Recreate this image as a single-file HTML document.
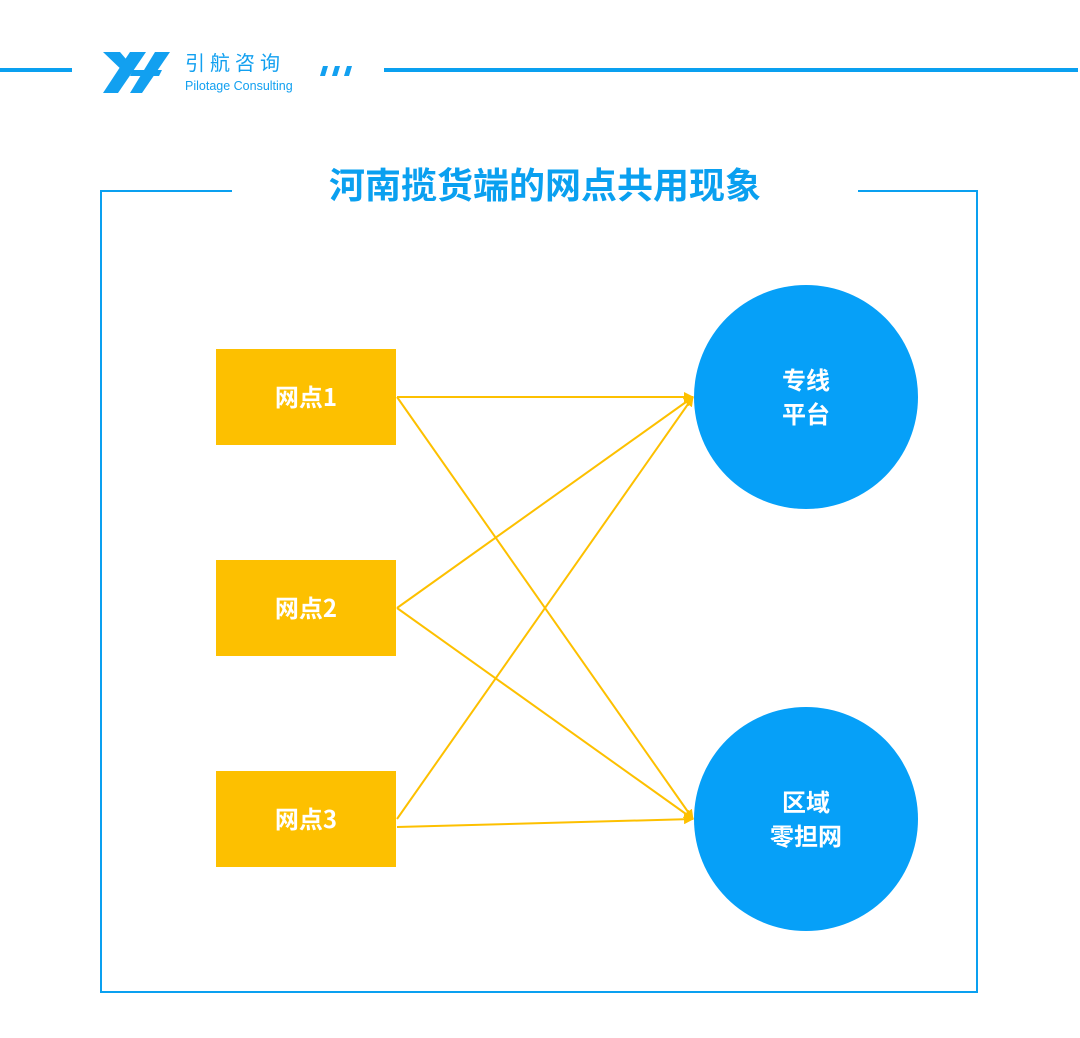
<!DOCTYPE html>
<html><head><meta charset="utf-8"><style>
body{margin:0;width:1080px;height:1038px;background:#fff;overflow:hidden;font-family:"Liberation Sans","Noto Sans CJK SC",sans-serif}
</style></head><body>
<svg width="1080" height="1038" xmlns="http://www.w3.org/2000/svg" style="position:absolute;left:0;top:0">
<defs><marker id="a" markerWidth="10" markerHeight="10" refX="9" refY="5" orient="auto" markerUnits="userSpaceOnUse"><path d="M0,0 L10,5 L0,10z" fill="#fdc000"/></marker></defs>
<line x1="0" y1="70" x2="72" y2="70" stroke="#0aa0f0" stroke-width="4"/>
<line x1="384" y1="70" x2="1078" y2="70" stroke="#0aa0f0" stroke-width="4"/>
<g fill="#12a0f0">
<path d="M103,52 L120,52 L132,66 L127,75 Z"/>
<path d="M130,52 L146,52 L118,93 L103,93 Z"/>
<path d="M155,52 L170,52 L142,93 L130,93 Z"/>
<path d="M133,70 L162,70 L159,76 L130,76 Z"/>
</g>
<text x="185" y="70" font-size="20" fill="#12a0f0" letter-spacing="5" font-family="Noto Sans CJK SC">引航咨询</text>
<text x="185" y="90" font-size="12.5" fill="#12a0f0">Pilotage Consulting</text>
<path d="M323,66h5l-3,10h-5zM335,66h5l-3,10h-5zM347,66h5l-3,10h-5z" fill="#12a0f0"/>
<path d="M232,191 H101 V992 H977 V191 H858" fill="none" stroke="#0aa0f0" stroke-width="2"/>
<text x="545" y="198" font-size="36" font-weight="bold" fill="#0aa0f0" text-anchor="middle" font-family="Noto Sans CJK SC">河南揽货端的网点共用现象</text>
<g stroke="#fdc000" stroke-width="2" marker-end="url(#a)">
<line x1="397" y1="397" x2="693" y2="397"/>
<line x1="397" y1="397" x2="693" y2="819"/>
<line x1="397" y1="608" x2="693" y2="397"/>
<line x1="397" y1="608" x2="693" y2="819"/>
<line x1="397" y1="819" x2="693" y2="397"/>
<line x1="397" y1="827" x2="693" y2="819"/>
</g>
<g fill="#fdc000"><rect x="216" y="349" width="180" height="96"/><rect x="216" y="560" width="180" height="96"/><rect x="216" y="771" width="180" height="96"/></g>
<g fill="#fff" font-size="24" font-weight="bold" text-anchor="middle" font-family="Noto Sans CJK SC">
<text x="306" y="406">网点1</text><text x="306" y="617">网点2</text><text x="306" y="828">网点3</text></g>
<circle cx="806" cy="397" r="112" fill="#06a0f8"/>
<circle cx="806" cy="819" r="112" fill="#06a0f8"/>
<g fill="#fff" font-size="24" font-weight="bold" text-anchor="middle" font-family="Noto Sans CJK SC">
<text x="806" y="389">专线</text><text x="806" y="423">平台</text>
<text x="806" y="811">区域</text><text x="806" y="845">零担网</text></g>
</svg>
</body></html>
